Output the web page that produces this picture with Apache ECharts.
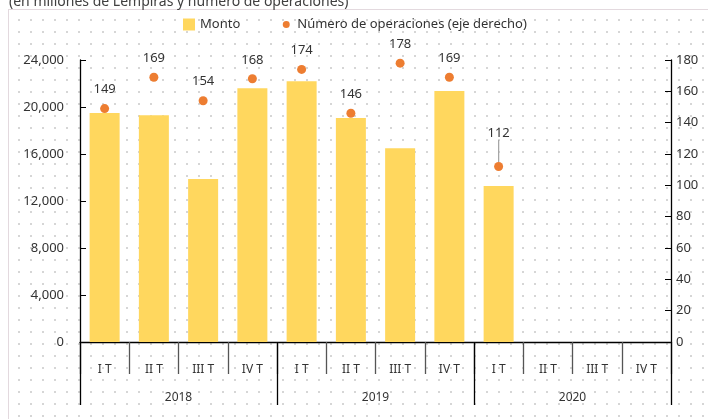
<!DOCTYPE html>
<html>
<head>
<meta charset="utf-8">
<script src="https://cdn.jsdelivr.net/npm/echarts@6/dist/echarts.min.js"></script>
<style>
  html, body { margin: 0; padding: 0; background: #fff; overflow: hidden; }
  #bg {
    position: absolute; left: 8px; top: 9px; width: 720px; height: 430px;
    border: 1px solid #e3d9de;
    background-image: radial-gradient(circle, #d6d6d6 0.8px, transparent 1.1px);
    background-size: 12px 12px;
    background-position: 4px 4px;
  }
  #chart { position: absolute; left: 0; top: 0; width: 708px; height: 419px; }
</style>
</head>
<body>
<div id="bg"></div>
<div id="chart"></div>
<script>
  // datos
  const quarters = ['I T', 'II T', 'III T', 'IV T', 'I T', 'II T', 'III T', 'IV T', 'I T', 'II T', 'III T', 'IV T'];
  const years = ['2018', '2019', '2020'];
  const monto = [19500, 19300, 13870, 21600, 22200, 19060, 16500, 21360, 13280, null, null, null];
  const operaciones = [149, 169, 154, 168, 174, 146, 178, 169, 112, null, null, null];

  const font = 'Noto Sans';
  const txt = '#333';

  const chart = echarts.init(document.getElementById('chart'));
  const option = {
    animation: false,
    textStyle: { fontFamily: font },
    title: {
      text: '(en millones de Lempiras y número de operaciones)',
      left: 4, top: -10,
      textStyle: { fontFamily: font, fontSize: 14, fontWeight: 'normal', color: '#404040' }
    },
    legend: {
      left: 178, top: 13,
      itemGap: 40,
      textStyle: { fontFamily: font, fontSize: 13, color: txt },
      data: [
        { name: 'Monto', icon: 'rect', itemStyle: { color: '#FFD75E' } },
        { name: 'Número de operaciones (eje derecho)',
          icon: 'path://M6,2.5A3.5,3.5,0,1,0,6.001,2.5ZM0,0h0.01ZM12,12h0.01Z' }
      ],
      itemWidth: 12, itemHeight: 12
    },
    grid: { left: 80, right: 37, top: 60, bottom: 77 },
    xAxis: [
      {
        type: 'category', data: quarters, position: 'bottom', boundaryGap: true,
        axisLine: { show: true, lineStyle: { color: '#000', width: 1.3 } },
        axisTick: { show: true, interval: 0, length: 32, lineStyle: { color: '#555', width: 1.3 } },
        axisLabel: { interval: 0, fontSize: 12, color: txt, margin: 22 }
      },
      {
        type: 'category', data: years, position: 'bottom', boundaryGap: true,
        axisLine: { show: false },
        axisTick: { show: true, interval: 0, length: 63, lineStyle: { color: '#000', width: 1.3 } },
        axisLabel: { interval: 0, fontSize: 12, color: txt, margin: 50 }
      }
    ],
    yAxis: [
      {
        type: 'value', min: 0, max: 24000, interval: 4000,
        axisLine: { show: true, lineStyle: { color: '#000', width: 1.3 } },
        axisTick: { show: true, inside: true, length: 6, lineStyle: { color: '#000' } },
        splitLine: { show: false },
        axisLabel: {
          fontSize: 13, color: txt, margin: 16,
          formatter: v => v.toLocaleString('en-US')
        }
      },
      {
        type: 'value', min: 0, max: 180, interval: 20, position: 'right',
        axisLine: { show: true, lineStyle: { color: '#000', width: 1.3 } },
        axisTick: { show: true, inside: true, length: 6, lineStyle: { color: '#000' } },
        splitLine: { show: false },
        axisLabel: { fontSize: 13, color: txt, margin: 5 }
      }
    ],
    series: [
      {
        name: 'Monto', type: 'bar', data: monto, xAxisIndex: 0, yAxisIndex: 0,
        barWidth: 30,
        itemStyle: { color: '#FFD75E' }
      },
      {
        name: 'Número de operaciones (eje derecho)', type: 'scatter',
        data: operaciones.map((v, i) => i === 8 ? { value: v, labelLine: { show: true } } : v),
        xAxisIndex: 0, yAxisIndex: 1,
        symbolSize: 9,
        itemStyle: { color: '#ED7D31', opacity: 1 },
        label: { show: true, position: 'top', distance: 8, fontSize: 13, color: txt },
        labelLine: { lineStyle: { color: '#a6a6a6', width: 1.3 } },
        labelLayout: p => p.dataIndex === 8 ? { dy: -14 } : {}
      }
    ]
  };
  chart.setOption(option);
</script>
</body>
</html>
